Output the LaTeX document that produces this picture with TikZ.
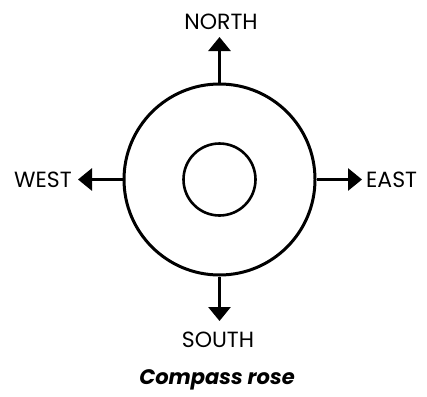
\documentclass[tikz,border=0pt]{standalone}
\usepackage{fontspec}
\setmainfont{Poppins}
\usetikzlibrary{arrows.meta}
\begin{document}
\begin{tikzpicture}[x=1pt,y=-1pt,
  ring/.style={draw=black,line width=3pt},
  dirarrow/.style={draw=black,line width=3pt,-{Triangle[width=22pt,length=14pt]}},
  lbl/.style={font=\fontsize{22}{22}\selectfont,inner sep=0pt}]
\useasboundingbox (0,0) rectangle (427,396);
\node[circle,ring,minimum size=191pt,inner sep=0pt] (outer) at (219.5,179.5) {};
\node[circle,draw=black,line width=2.6pt,minimum size=72pt,inner sep=0pt] (inner) at (219.5,179.5) {};
\coordinate (ntip) at (219.5,37);
\coordinate (stip) at (219.5,321);
\coordinate (wtip) at (78,179.5);
\coordinate (etip) at (362,179.5);
\draw[dirarrow] (outer.north) -- (ntip);
\draw[dirarrow] (outer.south) -- (stip);
\draw[dirarrow] (outer.west) -- (wtip);
\draw[dirarrow] (outer.east) -- (etip);
\node[lbl] (n) at (221,22) {NORTH};
\node[lbl] (s) at (218,340) {SOUTH};
\node[lbl,anchor=east] (w) at (72,180) {WEST};
\node[lbl,anchor=west] (e) at (366,180) {EAST};
\node[font=\fontsize{21}{21}\selectfont\bfseries\itshape,inner sep=0pt] (cap) at (217,380) {Compass rose};
\end{tikzpicture}
\end{document}
